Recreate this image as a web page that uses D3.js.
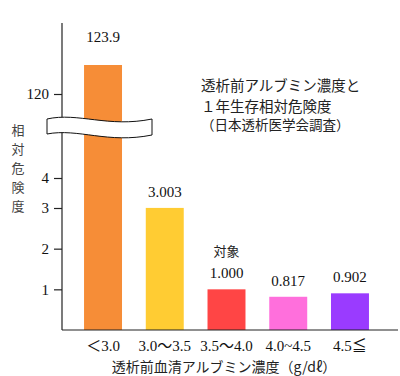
<!DOCTYPE html>
<html>
<head>
<meta charset="utf-8">
<script src="https://cdn.jsdelivr.net/npm/d3@7"></script>
<style>
  body { margin: 0; background: #fff; }
  svg { display: block; }
</style>
</head>
<body>
<div class="chart"></div>
<script>
const width = 400;
const height = 376;

// data
const categories = ["＜3.0", "3.0〜3.5", "3.5〜4.0", "4.0~4.5", "4.5≦"];
const values = [123.9, 3.003, 1.000, 0.817, 0.902];
const valueLabels = ["123.9", "3.003", "1.000", "0.817", "0.902"];
const colors = ["#f68d37", "#ffcc33", "#ff4545", "#ff6fdc", "#9a3bff"];
const yTicks = [1, 2, 3, 4, 120];
const titleLines = ["透析前アルブミン濃度と", "１年生存相対危険度", "（日本透析医学会調査）"];

const axisX = 62;
const baseY = 330;
const serif = "'Liberation Serif', 'DejaVu Serif', 'Noto Sans CJK JP', serif";
const sans = "'Noto Sans CJK JP', sans-serif";

const svg = d3.select(".chart").append("svg")
    .attr("width", width)
    .attr("height", height);

// broken axis: lower part 0-4 and upper part 120-124
const y = d3.scaleLinear()
    .domain([0, 3, 4, 120, 123.9])
    .range([baseY, 208, 178, 94, 65]);

const x = d3.scaleBand()
    .domain(categories)
    .range([axisX, 391])
    .paddingInner(0.385)
    .paddingOuter(0.357);

// bars
svg.selectAll("rect.bar")
    .data(values)
    .enter()
    .append("rect")
    .attr("class", "bar")
    .attr("x", (d, i) => x(categories[i]))
    .attr("y", d => y(d))
    .attr("width", x.bandwidth())
    .attr("height", d => baseY - y(d))
    .attr("fill", (d, i) => colors[i]);

// value labels
svg.selectAll("text.val")
    .data(values)
    .enter()
    .append("text")
    .attr("class", "val")
    .attr("x", (d, i) => x(categories[i]) + x.bandwidth() / 2)
    .attr("y", (d, i) => y(d) - (i === 0 ? 23 : 11))
    .attr("text-anchor", "middle")
    .style("font-family", serif)
    .style("font-size", "15px")
    .attr("fill", "#111")
    .text((d, i) => valueLabels[i]);

svg.append("text")
    .attr("x", x(categories[2]) + x.bandwidth() / 2)
    .attr("y", y(values[2]) - 33)
    .attr("text-anchor", "middle")
    .style("font-family", sans)
    .style("font-size", "13px")
    .attr("fill", "#222")
    .text("対象");

// y axis
const yAxis = d3.axisLeft(y)
    .tickValues(yTicks)
    .tickSize(8)
    .tickPadding(5)
    .tickFormat(d3.format("d"));

const gy = svg.append("g")
    .attr("transform", `translate(${axisX},0)`)
    .call(yAxis);
gy.select(".domain").remove();
gy.selectAll("line").attr("stroke", "#222").attr("stroke-width", 1.2);
gy.selectAll("text")
    .style("font-family", serif)
    .style("font-size", "15px")
    .attr("fill", "#111");

svg.append("line")
    .attr("x1", axisX).attr("x2", axisX)
    .attr("y1", 23).attr("y2", baseY)
    .attr("stroke", "#222")
    .attr("stroke-width", 1.2);

svg.append("line")
    .attr("x1", axisX).attr("x2", 398)
    .attr("y1", baseY).attr("y2", baseY)
    .attr("stroke", "#222")
    .attr("stroke-width", 1.2);

// x category labels
svg.selectAll("text.cat")
    .data(categories)
    .enter()
    .append("text")
    .attr("class", "cat")
    .attr("x", d => x(d) + x.bandwidth() / 2)
    .attr("y", 351)
    .attr("text-anchor", "middle")
    .style("font-family", serif)
    .style("font-size", "15px")
    .attr("fill", "#111")
    .text(d => d);

// axis break (wavy white band)
svg.append("path")
    .attr("d", "M47,119 C78,112 108,128 152,119 L152,135 C108,144 78,128 47,134 Z")
    .attr("fill", "#fff")
    .attr("stroke", "#111")
    .attr("stroke-width", 1);

// y axis title, vertical
const yTitle = "相対危険度".split("");
svg.selectAll("text.ytitle")
    .data(yTitle)
    .enter()
    .append("text")
    .attr("class", "ytitle")
    .attr("x", 18)
    .attr("y", (d, i) => 135 + i * 19)
    .attr("text-anchor", "middle")
    .style("font-family", sans)
    .style("font-size", "13px")
    .attr("fill", "#444")
    .text(d => d);

// x axis title
svg.append("text")
    .attr("x", 224)
    .attr("y", 372)
    .attr("text-anchor", "middle")
    .style("font-family", sans)
    .style("font-size", "14px")
    .attr("fill", "#222")
    .text("透析前血清アルブミン濃度（g/dℓ）");

// title
svg.selectAll("text.title")
    .data(titleLines)
    .enter()
    .append("text")
    .attr("class", "title")
    .attr("x", 201)
    .attr("y", (d, i) => [91, 112, 130][i])
    .style("font-family", sans)
    .style("font-size", (d, i) => i === 2 ? "13.5px" : "14.5px")
    .attr("fill", "#222")
    .text(d => d);
</script>
</body>
</html>
